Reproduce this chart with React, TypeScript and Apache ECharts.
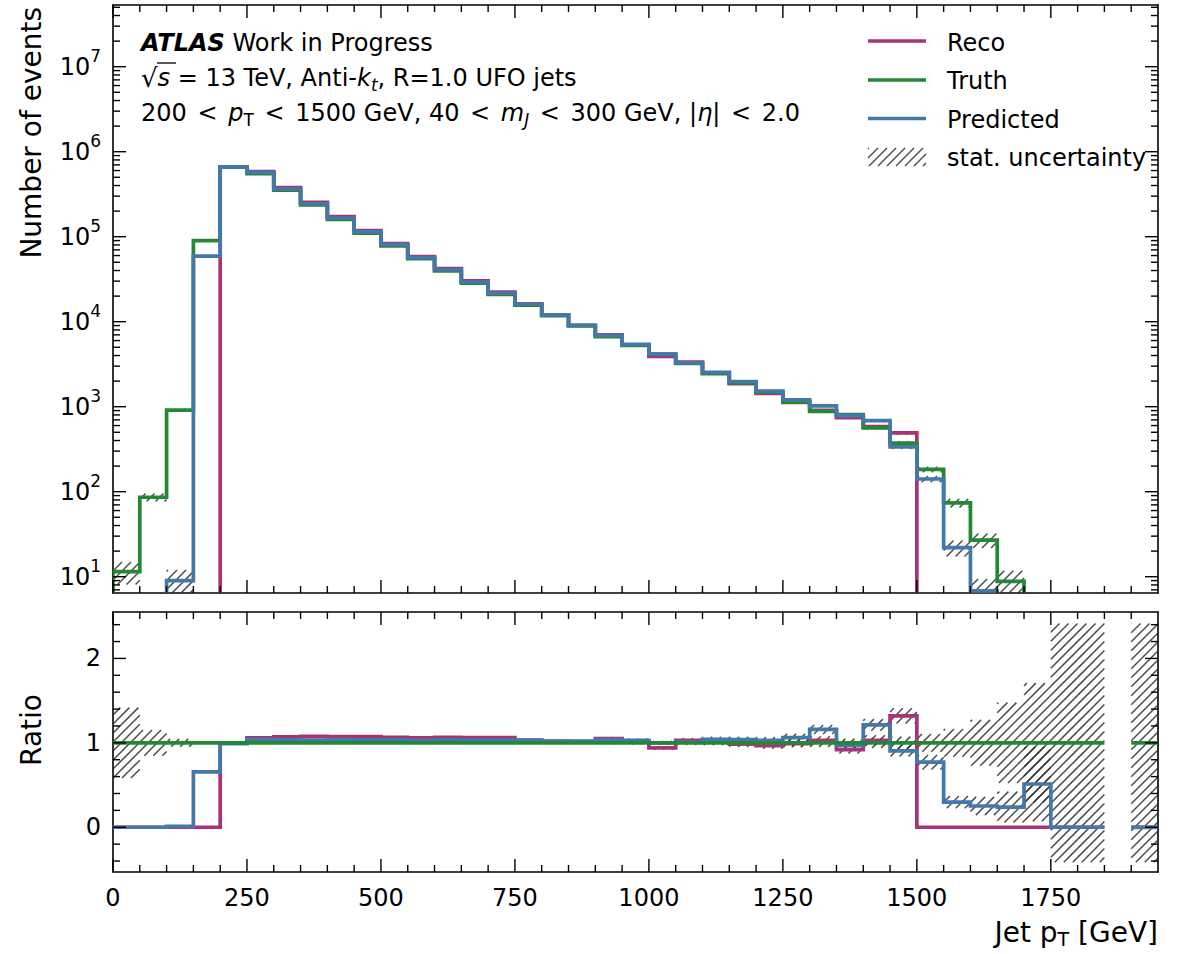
import React, { useEffect, useRef } from 'react';
import * as echarts from 'echarts';

// ---------------- data ----------------
const binEdges = [0, 50, 100, 150, 200, 250, 300, 350, 400, 450, 500, 550, 600, 650, 700, 750, 800, 850, 900, 950,
  1000, 1050, 1100, 1150, 1200, 1250, 1300, 1350, 1400, 1450, 1500, 1550, 1600, 1650, 1700, 1750, 1800, 1850, 1900, 1950];

const truth = [11.5, 86, 910, 90000, 665000, 550000, 352000, 236000, 160000, 110000, 78000, 55000, 39500, 28400, 21000,
  15700, 11800, 8900, 6670, 5250, 4150, 3240, 2440, 1900, 1480, 1130, 880, 810, 565, 372, 183, 74, 27, 8.8, 4, 1, 1, 0, 1];

const reco = [0, 0, 0, 0, 662000, 583000, 377000, 254000, 172000, 118000, 83100, 58300, 42100, 30200, 22300,
  16200, 12050, 9030, 7000, 5355, 3900, 3340, 2490, 1870, 1430, 1120, 906, 745, 582, 491, 0, 0, 0, 0, 0, 0, 0, 0, 0];

const predicted = [0, 0, 9, 59000, 658000, 572000, 364000, 244000, 166000, 114000, 80700, 56700, 40900, 29300, 21700,
  16150, 12000, 9080, 6900, 5410, 4150, 3270, 2540, 1975, 1525, 1200, 1020, 786, 685, 337, 141, 22, 6.8, 2.1, 2.05, 0, 0, 0, 0];

const xMajorTicks = [0, 250, 500, 750, 1000, 1250, 1500, 1750];
const logMajorExponents = [1, 2, 3, 4, 5, 6, 7];
const ratioMajorTicks = [0, 1, 2];
const ratioMinorTicks = [-0.4, -0.2, 0.2, 0.4, 0.6, 0.8, 1.2, 1.4, 1.6, 1.8, 2.2, 2.4];

const seriesNames = ['Reco', 'Truth', 'Predicted'];
const legendUncertainty = 'stat. uncertainty';

// ---------------- style ----------------
const COLORS = { reco: '#AA3377', truth: '#228833', predicted: '#4477AA' };
const FONT = "'DejaVu Sans', sans-serif";
const X_MIN = 0, X_MAX = 1950;
const Y_MIN = 6.43, Y_MAX = 5.32e7;
const R_MIN = -0.53, R_MAX = 2.55;
const LOG_FLOOR = 1;
const LW = 3.7;
const MAJOR = 13, MINOR = 7;
const HATCH_STEP = 9;
const hatchStyle = { stroke: 'rgba(45,45,45,0.85)', lineWidth: 1.5 };

// ---------------- derived ----------------
const ratioOf = (h: number[]) => h.map((v, i) => (truth[i] > 0 ? v / truth[i] : NaN));
const ratioReco = ratioOf(reco);
const ratioPred = ratioOf(predicted);
const ratioTruth = ratioOf(truth);

const xMinorTicks = binEdges.filter((e) => e > X_MIN && e < X_MAX && xMajorTicks.indexOf(e) < 0);
const logMinorTicks: number[] = [];
for (let n = 0; n <= 7; n++) for (let k = 2; k <= 9; k++) {
  const v = k * Math.pow(10, n);
  if (v > Y_MIN && v < Y_MAX) logMinorTicks.push(v);
}
const logMajorTicks = logMajorExponents.map((e) => Math.pow(10, e));

type Band = { i: number; lo: number; hi: number };
function mainBands(): Band[] {
  const out: Band[] = [];
  [truth, reco, predicted].forEach((h) => h.forEach((v, i) => {
    if (v > 0) { const e = Math.sqrt(v); out.push({ i, lo: Math.max(v - e, LOG_FLOOR), hi: v + e }); }
  }));
  return out;
}
function ratioBands(): Band[] {
  const out: Band[] = [];
  truth.forEach((t, i) => { if (t > 0) { const d = Math.sqrt(2 / t); out.push({ i, lo: 1 - d, hi: 1 + d }); } });
  [reco, predicted].forEach((h) => h.forEach((v, i) => {
    const t = truth[i];
    if (t > 0 && v > 0) { const r = v / t; const d = r * Math.sqrt(1 / v + 1 / t); out.push({ i, lo: r - d, hi: r + d }); }
  }));
  return out;
}

function hatchLines(x0: number, x1: number, ya: number, yb: number, out: any[]) {
  const s = HATCH_STEP;
  const cStart = Math.ceil((x0 + ya) / s) * s;
  for (let c = cStart; c <= x1 + yb; c += s) {
    const xs = Math.max(x0, c - yb);
    const xe = Math.min(x1, c - ya);
    if (xe - xs > 0.3) out.push({ type: 'line', shape: { x1: xs, y1: c - xs, x2: xe, y2: c - xe }, style: hatchStyle });
  }
}

function hatchRender(bands: Band[], xRef: number, yRef: number) {
  return (params: any, api: any) => {
    if (params.dataIndex !== 0) return null;
    const cs = params.coordSys;
    const children: any[] = [];
    bands.forEach((b) => {
      const xa = api.coord([binEdges[b.i], yRef])[0];
      const xb = api.coord([binEdges[b.i + 1], yRef])[0];
      let yt = api.coord([xRef, b.hi])[1];
      let yb = api.coord([xRef, b.lo])[1];
      yt = Math.max(yt, cs.y);
      yb = Math.min(yb, cs.y + cs.height);
      if (yb - yt < 0.3) return;
      hatchLines(xa, xb, yt, yb, children);
    });
    return { type: 'group', children };
  };
}

function mainStepRender(values: number[], color: string) {
  return (params: any, api: any) => {
    if (params.dataIndex !== 0) return null;
    const fl = (v: number) => (v > 0 ? v : LOG_FLOOR);
    const pts: number[][] = [api.coord([binEdges[0], LOG_FLOOR])];
    values.forEach((v, i) => {
      pts.push(api.coord([binEdges[i], fl(v)]));
      pts.push(api.coord([binEdges[i + 1], fl(v)]));
    });
    pts.push(api.coord([binEdges[values.length], LOG_FLOOR]));
    return { type: 'polyline', shape: { points: pts }, style: { stroke: color, lineWidth: LW, fill: 'none', lineJoin: 'miter' } };
  };
}

function ratioStepRender(values: number[], color: string) {
  return (params: any, api: any) => {
    if (params.dataIndex !== 0) return null;
    const runs: number[][][] = [];
    let cur: number[][] | null = null;
    values.forEach((v, i) => {
      if (!isFinite(v)) { if (cur) { runs.push(cur); cur = null; } return; }
      if (!cur) cur = [];
      cur.push(api.coord([binEdges[i], v]));
      cur.push(api.coord([binEdges[i + 1], v]));
    });
    if (cur) runs.push(cur);
    return {
      type: 'group',
      children: runs.map((p) => ({ type: 'polyline', shape: { points: p }, style: { stroke: color, lineWidth: LW, fill: 'none', lineJoin: 'miter' } })),
    };
  };
}

function tickRender(yMajor: number[], yMinor: number[], yRef: number) {
  return (params: any, api: any) => {
    if (params.dataIndex !== 0) return null;
    const cs = params.coordSys;
    const L = cs.x, R = cs.x + cs.width, T = cs.y, B = cs.y + cs.height;
    const ch: any[] = [];
    const st = { stroke: '#000', lineWidth: 1.4 };
    const line = (x1: number, y1: number, x2: number, y2: number) => ch.push({ type: 'line', shape: { x1, y1, x2, y2 }, style: st });
    xMinorTicks.forEach((v) => { const x = api.coord([v, yRef])[0]; line(x, B, x, B - MINOR); line(x, T, x, T + MINOR); });
    xMajorTicks.forEach((v) => { const x = api.coord([v, yRef])[0]; line(x, B, x, B - MAJOR); line(x, T, x, T + MAJOR); });
    yMinor.forEach((v) => { const y = api.coord([100, v])[1]; line(L, y, L + MINOR, y); line(R, y, R - MINOR, y); });
    yMajor.forEach((v) => { const y = api.coord([100, v])[1]; line(L, y, L + MAJOR, y); line(R, y, R - MAJOR, y); });
    return { type: 'group', children: ch };
  };
}

function buildOption(): any {
  const axisLine = { show: true, onZero: false, lineStyle: { color: '#000', width: 1.6 } };
  const bareX = (gridIndex: number, position: string) => ({
    gridIndex, type: 'value', min: X_MIN, max: X_MAX, position, axisLine,
    axisTick: { show: false }, axisLabel: { show: false }, splitLine: { show: false },
  });
  const textBase = { fill: '#000', fontFamily: FONT, fontSize: 24, align: 'left', verticalAlign: 'middle' };
  const tok = (extra: any) => ({ fontFamily: FONT, fontSize: 24, ...extra });

  const custom = (name: string, xi: number, yi: number, yRef: number, renderItem: any, clip = true) => ({
    type: 'custom', name, xAxisIndex: xi, yAxisIndex: yi, coordinateSystem: 'cartesian2d',
    data: [[100, yRef]], renderItem, clip, silent: true,
  });

  const legendHatch: any[] = [];
  hatchLines(868, 926, 148, 166, legendHatch);

  return {
    animation: false,
    backgroundColor: '#fff',
    textStyle: { fontFamily: FONT },
    grid: [
      { left: 113, top: 5, width: 1045, height: 588 },
      { left: 113, top: 612, width: 1045, height: 260 },
    ],
    xAxis: [
      bareX(0, 'bottom'),
      bareX(0, 'top'),
      {
        ...bareX(1, 'bottom'), interval: 250,
        axisLabel: {
          show: true, color: '#000', fontFamily: FONT, fontSize: 24, margin: 14,
          formatter: (v: number) => (xMajorTicks.indexOf(Math.round(v)) >= 0 ? String(Math.round(v)) : ''),
        },
      },
      bareX(1, 'top'),
    ],
    yAxis: [
      {
        gridIndex: 0, type: 'log', logBase: 10, min: Y_MIN, max: Y_MAX, position: 'left', axisLine,
        axisTick: { show: false }, splitLine: { show: false },
        axisLabel: {
          show: true, margin: 12, color: '#000',
          formatter: (v: number) => {
            const l = Math.log10(v);
            const e = Math.round(l);
            if (Math.abs(l - e) > 1e-6 || logMajorExponents.indexOf(e) < 0) return '';
            return '{b|10}{s|' + e + '}';
          },
          rich: {
            b: { fontFamily: FONT, fontSize: 24, color: '#000' },
            s: { fontFamily: FONT, fontSize: 17, color: '#000', padding: [0, 0, 22, 0] },
          },
        },
      },
      {
        gridIndex: 0, type: 'log', logBase: 10, min: Y_MIN, max: Y_MAX, position: 'right', axisLine,
        axisTick: { show: false }, splitLine: { show: false }, axisLabel: { show: false },
      },
      {
        gridIndex: 1, type: 'value', min: R_MIN, max: R_MAX, position: 'left', axisLine,
        axisTick: { show: false }, splitLine: { show: false },
        axisLabel: {
          show: true, margin: 12, color: '#000', fontFamily: FONT, fontSize: 24,
          formatter: (v: number) => {
            const r = Math.round(v);
            return Math.abs(v - r) < 1e-9 && ratioMajorTicks.indexOf(r) >= 0 ? String(r) : '';
          },
        },
      },
      {
        gridIndex: 1, type: 'value', min: R_MIN, max: R_MAX, position: 'right', axisLine,
        axisTick: { show: false }, splitLine: { show: false }, axisLabel: { show: false },
      },
    ],
    series: [
      custom('hatchMain', 0, 0, 100, hatchRender(mainBands(), 100, 100)),
      custom(seriesNames[0], 0, 0, 100, mainStepRender(reco, COLORS.reco)),
      custom(seriesNames[1], 0, 0, 100, mainStepRender(truth, COLORS.truth)),
      custom(seriesNames[2], 0, 0, 100, mainStepRender(predicted, COLORS.predicted)),
      custom('ticksMain', 0, 0, 100, tickRender(logMajorTicks, logMinorTicks, 100), false),
      custom('hatchRatio', 2, 2, 1, hatchRender(ratioBands(), 100, 1)),
      custom('ratioReco', 2, 2, 1, ratioStepRender(ratioReco, COLORS.reco)),
      custom('ratioPred', 2, 2, 1, ratioStepRender(ratioPred, COLORS.predicted)),
      custom('ratioTruth', 2, 2, 1, ratioStepRender(ratioTruth, COLORS.truth)),
      custom('ticksRatio', 2, 2, 1, tickRender(ratioMajorTicks, ratioMinorTicks, 1), false),
    ],
    graphic: [
      {
        type: 'text', x: 141, y: 43,
        style: { ...textBase, text: '{a|ATLAS} Work in Progress', rich: { a: tok({ fontWeight: 'bold', fontStyle: 'italic' }) } },
      },
      {
        type: 'text', x: 141, y: 78,
        style: {
          ...textBase,
          text: '{r|√}{i|s} = 13 TeV, Anti-{i|k}{si|t}, R=1.0 UFO jets',
          rich: {
            r: tok({ fontSize: 26 }),
            i: tok({ fontStyle: 'italic' }),
            si: tok({ fontSize: 17, fontStyle: 'italic', padding: [14, 0, 0, 0] }),
          },
        },
      },
      { type: 'line', shape: { x1: 157, y1: 63, x2: 176, y2: 63 }, style: { stroke: '#000', lineWidth: 1.3 } },
      {
        type: 'text', x: 141, y: 113,
        style: {
          ...textBase,
          text: '200 {lt|<} {i|p}{sub|T} {lt|<} 1500 GeV, 40 {lt|<} {i|m}{si|J} {lt|<} 300 GeV, |{i|η}| {lt|<} 2.0',
          rich: {
            lt: tok({ padding: [0, 3, 0, 3] }),
            i: tok({ fontStyle: 'italic' }),
            sub: tok({ fontSize: 17, padding: [14, 0, 0, 0] }),
            si: tok({ fontSize: 17, fontStyle: 'italic', padding: [14, 0, 0, 0] }),
          },
        },
      },
      // legend
      { type: 'line', shape: { x1: 868, y1: 41, x2: 926, y2: 41 }, style: { stroke: COLORS.reco, lineWidth: LW } },
      { type: 'text', x: 947, y: 43, style: { ...textBase, text: seriesNames[0] } },
      { type: 'line', shape: { x1: 868, y1: 80, x2: 926, y2: 80 }, style: { stroke: COLORS.truth, lineWidth: LW } },
      { type: 'text', x: 947, y: 81, style: { ...textBase, text: seriesNames[1] } },
      { type: 'line', shape: { x1: 868, y1: 118.5, x2: 926, y2: 118.5 }, style: { stroke: COLORS.predicted, lineWidth: LW } },
      { type: 'text', x: 947, y: 120, style: { ...textBase, text: seriesNames[2] } },
      { type: 'group', children: legendHatch },
      { type: 'text', x: 947, y: 158, style: { ...textBase, text: legendUncertainty } },
      // axis titles
      {
        type: 'text', x: 31, y: 7, rotation: Math.PI / 2,
        style: { ...textBase, fontSize: 28, text: 'Number of events', align: 'right' },
      },
      {
        type: 'text', x: 31, y: 730, rotation: Math.PI / 2,
        style: { ...textBase, fontSize: 28, text: 'Ratio', align: 'center' },
      },
      {
        type: 'text', x: 1158, y: 932,
        style: {
          ...textBase, fontSize: 28, align: 'right', text: 'Jet p{sub|T} [GeV]',
          rich: { sub: tok({ fontSize: 19, padding: [14, 0, 0, 0] }) },
        },
      },
    ],
  };
}

export default function App() {
  const ref = useRef<HTMLDivElement>(null);
  useEffect(() => {
    if (!ref.current) return;
    const chart = echarts.init(ref.current, null, { renderer: 'svg' });
    chart.setOption(buildOption());
    return () => chart.dispose();
  }, []);
  return (
    <div
      ref={ref}
      style={{ position: 'absolute', left: 0, top: 0, width: 1183, height: 954, background: '#fff' }}
    />
  );
}
